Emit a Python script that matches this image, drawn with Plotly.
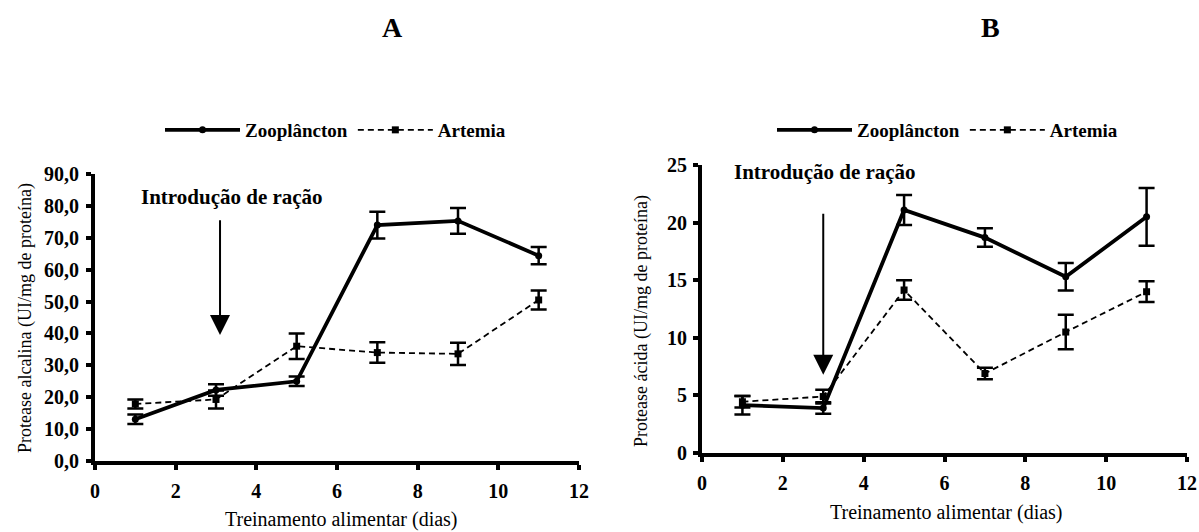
import plotly.graph_objects as go

# ---------------- data ----------------
days = [1, 3, 5, 7, 9, 11]

alk_zoo = [13.1, 22.3, 25.0, 74.0, 75.3, 64.4]
alk_zoo_err = [1.5, 1.8, 1.5, 4.2, 4.0, 2.7]
alk_art = [17.9, 19.3, 36.0, 34.0, 33.6, 50.5]
alk_art_err = [1.4, 2.8, 4.0, 3.2, 3.5, 3.0]

acid_zoo = [4.15, 3.9, 21.1, 18.7, 15.3, 20.5]
acid_zoo_err = [0.8, 0.5, 1.3, 0.8, 1.2, 2.5]
acid_art = [4.45, 4.9, 14.15, 6.9, 10.5, 14.0]
acid_art_err = [0.5, 0.6, 0.85, 0.5, 1.5, 0.9]

x_ticks = [0, 2, 4, 6, 8, 10, 12]
alk_ticks = [0, 10, 20, 30, 40, 50, 60, 70, 80, 90]
alk_tick_text = ["0,0", "10,0", "20,0", "30,0", "40,0", "50,0", "60,0", "70,0", "80,0", "90,0"]
acid_ticks = [0, 5, 10, 15, 20, 25]

series_names = ["Zooplâncton", "Artemia"]
panel_titles = ["A", "B"]
x_title = "Treinamento alimentar (dias)"
y_titles = ["Protease alcalina (UI/mg de proteína)", "Protease ácida (UI/mg de proteína)"]
arrow_text = "Introdução de ração"
arrow_day = [3.1, 3.0]
arrow_from = [76, 20.9]
arrow_to = [39.5, 6.8]
label_pos = [(3.4, 82.9), (3.05, 24.4)]

FONT = "Liberation Serif"
W, H = 1199, 532

fig = go.Figure()


def add_series(xa, ya, y, err, name, dashed, legend):
    fig.add_trace(go.Scatter(
        x=days, y=y, xaxis=xa, yaxis=ya, name=name, legend=legend,
        showlegend=True, mode="lines+markers",
        line=dict(color="black", width=1.8 if dashed else 3.8,
                  dash="6px,4px" if dashed else "solid"),
        marker=dict(symbol="square" if dashed else "circle", size=7,
                    color="black"),
        error_y=dict(type="data", array=err, visible=True, color="black",
                     thickness=2.5, width=8),
    ))


add_series("x", "y", alk_zoo, alk_zoo_err, series_names[0], False, "legend")
add_series("x", "y", alk_art, alk_art_err, series_names[1], True, "legend")
add_series("x2", "y2", acid_zoo, acid_zoo_err, series_names[0], False, "legend2")
add_series("x2", "y2", acid_art, acid_art_err, series_names[1], True, "legend2")


def px_x(p):
    return p / W


def px_y(p):
    return 1 - p / H


axis_common = dict(showline=True, linewidth=4, linecolor="black", ticks="outside",
                   ticklen=5, tickwidth=4, tickcolor="black", showgrid=False,
                   zeroline=False, mirror=False, automargin=False)

tickfont = dict(family=FONT, size=20, color="black", weight="bold")
titlefont = dict(family=FONT, size=20, color="black")
ytitlefont = dict(family=FONT, size=18, color="black")
legfont = dict(family=FONT, size=19, color="black", weight="bold")

fig.update_layout(
    width=W, height=H, margin=dict(l=0, r=0, t=0, b=0),
    paper_bgcolor="white", plot_bgcolor="white",
    font=dict(family=FONT, color="black"),
    xaxis=dict(domain=[px_x(95), px_x(579)], range=[0, 12], tickvals=x_ticks,
               anchor="y", tickfont=tickfont, ticklabelstandoff=4,
               **axis_common),
    yaxis=dict(domain=[px_y(461), px_y(174)], range=[0, 90], tickvals=alk_ticks,
               ticktext=alk_tick_text, anchor="x", tickfont=tickfont,
               ticklabelstandoff=3, **axis_common),
    xaxis2=dict(domain=[px_x(702), px_x(1187)], range=[0, 12], tickvals=x_ticks,
                anchor="y2", tickfont=tickfont, ticklabelstandoff=4,
                **axis_common),
    yaxis2=dict(domain=[px_y(453), px_y(165)], range=[0, 25], tickvals=acid_ticks,
                anchor="x2", tickfont=tickfont, ticklabelstandoff=2,
                **axis_common),
    legend=dict(orientation="h", x=px_x(160), y=px_y(130), xanchor="left",
                yanchor="middle", font=legfont, itemwidth=75,
                bgcolor="rgba(0,0,0,0)"),
    legend2=dict(orientation="h", x=px_x(772), y=px_y(130), xanchor="left",
                 yanchor="middle", font=legfont, itemwidth=75,
                 bgcolor="rgba(0,0,0,0)"),
)

annotations = []
for i, (xr, yr) in enumerate([("x", "y"), ("x2", "y2")]):
    annotations.append(dict(
        x=arrow_day[i], y=arrow_to[i], ax=arrow_day[i], ay=arrow_from[i],
        xref=xr, yref=yr, axref=xr, ayref=yr, text="", showarrow=True,
        arrowhead=2, arrowwidth=2, arrowsize=2, arrowcolor="black"))
    annotations.append(dict(
        x=label_pos[i][0], y=label_pos[i][1], xref=xr, yref=yr, text=arrow_text,
        showarrow=False, font=dict(family=FONT, size=21, color="black", weight="bold")))

# axis titles (placed as annotations in paper coordinates)
for xp, yp in [(341, 519), (946, 512)]:
    annotations.append(dict(x=px_x(xp), y=px_y(yp), xref="paper", yref="paper",
                            text=x_title, showarrow=False, xanchor="center",
                            yanchor="middle", font=titlefont))
for i, (xp, yp) in enumerate([(25, 318), (641, 321)]):
    annotations.append(dict(x=px_x(xp), y=px_y(yp), xref="paper", yref="paper",
                            text=y_titles[i], showarrow=False, textangle=-90,
                            xanchor="center", yanchor="middle", font=ytitlefont))

for t, xp in zip(panel_titles, [392, 990]):
    annotations.append(dict(x=px_x(xp), y=px_y(28), xref="paper", yref="paper",
                            text=t, showarrow=False, xanchor="center",
                            yanchor="middle",
                            font=dict(family=FONT, size=28, color="black",
                                      weight="bold")))
fig.update_layout(annotations=annotations)

fig.write_html("out.html")
